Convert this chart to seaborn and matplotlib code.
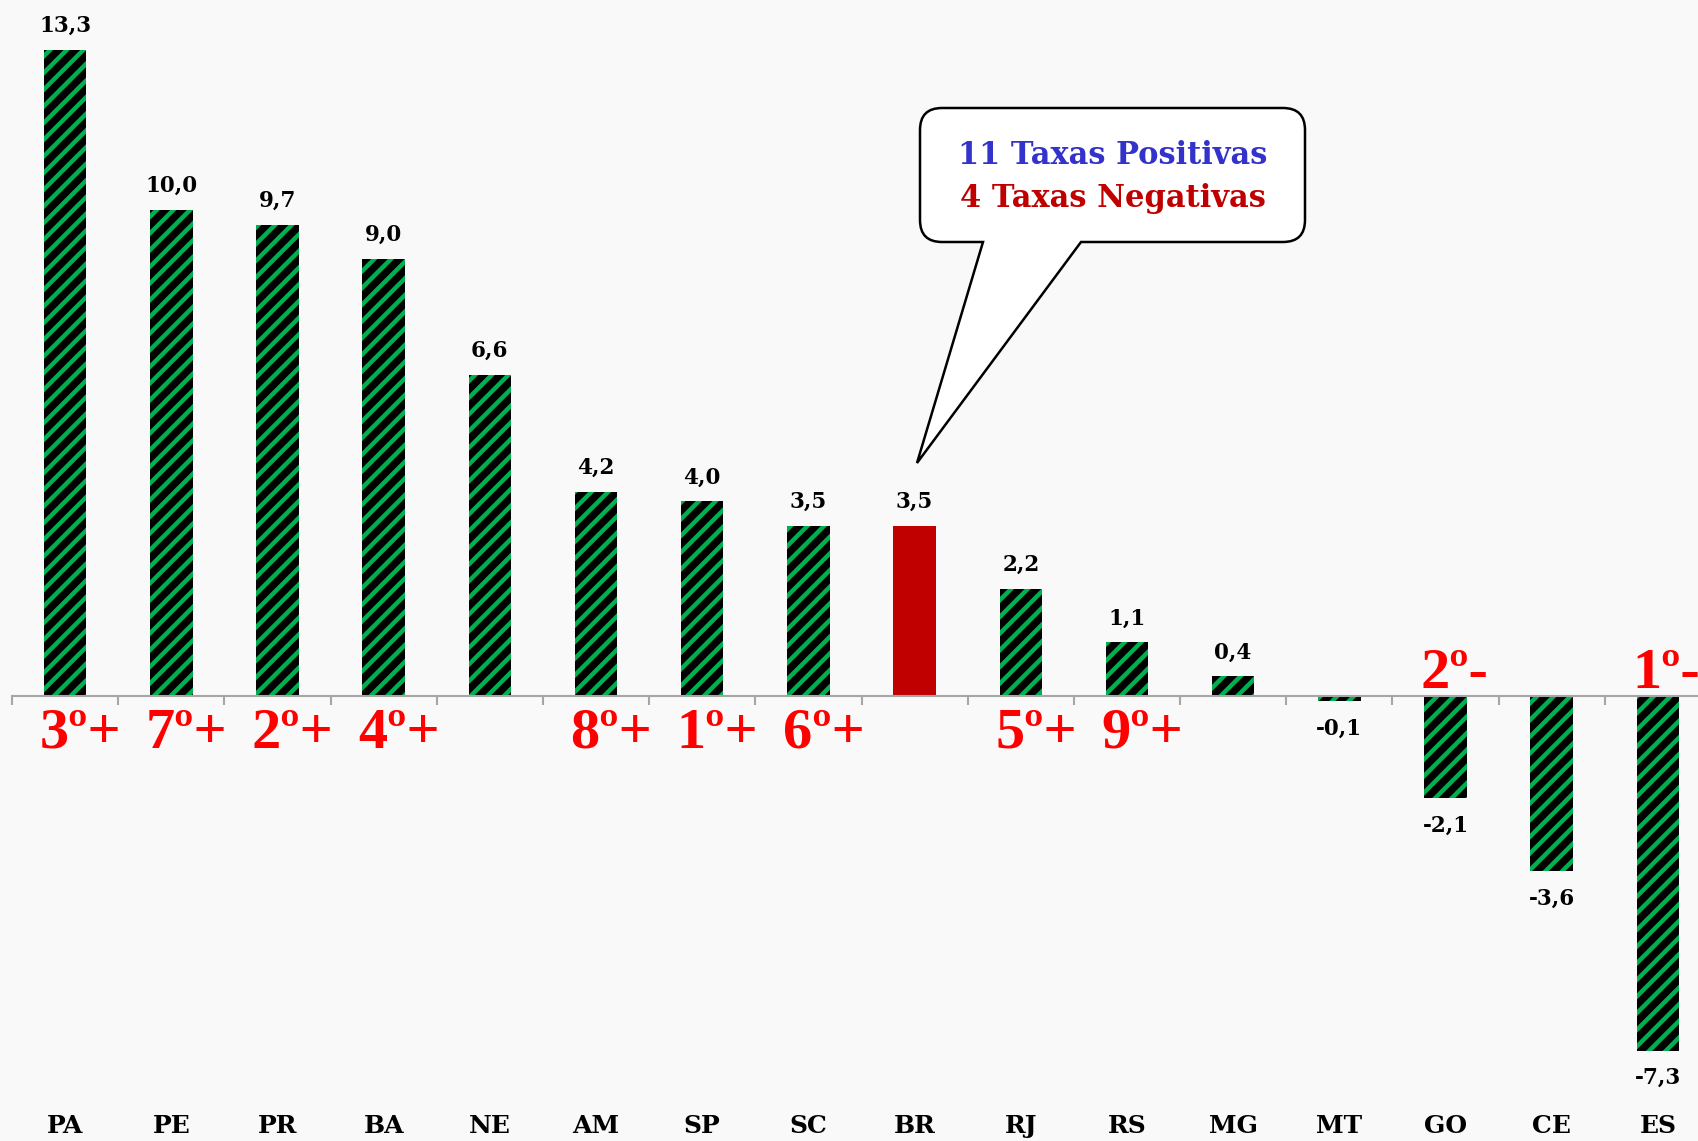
import matplotlib
matplotlib.use("Agg")
import matplotlib.pyplot as plt
import matplotlib.transforms as mtransforms
from matplotlib.path import Path
from matplotlib.patches import PathPatch
import seaborn as sns

states = ["PA", "PE", "PR", "BA", "NE", "AM", "SP", "SC", "BR", "RJ", "RS", "MG", "MT", "GO", "CE", "ES"]
values = [13.3, 10.0, 9.7, 9.0, 6.6, 4.2, 4.0, 3.5, 3.5, 2.2, 1.1, 0.4, -0.1, -2.1, -3.6, -7.3]
ranks = ["3º+", "7º+", "2º+", "4º+", "", "8º+", "1º+", "6º+", "", "5º+", "9º+", "", "", "2º-", "", "1º-"]
callout_lines = ["11 Taxas Positivas", "4 Taxas Negativas"]

W, H = 1698, 1141
bg = "#f9f9f9"
green = "#00b050"
red_bar = "#c00000"

sns.set_style("white")
plt.rcParams["hatch.linewidth"] = 3.2

fig = plt.figure(figsize=(W / 100, H / 100), dpi=100, facecolor=bg)
ax = fig.add_axes([12 / W, 0, 1699 / W, 1])
ax.set_facecolor(bg)

palette = {s: (red_bar if s == "BR" else "black") for s in states}
sns.barplot(x=states, y=values, hue=states, palette=palette, legend=False,
            width=0.4, linewidth=0, saturation=1, ax=ax)

# green/black diagonal stripes on every bar except Brazil
for s, p in zip(states, ax.patches):
    if s != "BR":
        p.set_facecolor("black")
        p.set_edgecolor(green)
        p.set_hatch("//")
        p.set_linewidth(0)

ax.set_xlim(-0.5, len(states) - 0.5)
ax.set_ylim(-9.16, 14.32)

# axis line at zero with separators between categories
for side in ["left", "right", "top"]:
    ax.spines[side].set_visible(False)
ax.spines["bottom"].set_position(("data", 0))
ax.spines["bottom"].set_color("#a6a6a6")
ax.spines["bottom"].set_linewidth(1.5)
ax.set_yticks([])
ax.set_xticks(range(len(states)))
ax.set_xticklabels([])
ax.tick_params(axis="x", which="major", length=0)
ax.set_xticks([i - 0.5 for i in range(len(states) + 1)], minor=True)
ax.tick_params(axis="x", which="minor", bottom=True, length=6.5, width=1.5,
               color="#a6a6a6", direction="out")
ax.set_xlabel("")
ax.set_ylabel("")

serif_bold = dict(family="DejaVu Serif", weight="bold")
blend = mtransforms.blended_transform_factory(ax.transData, ax.transAxes)

for i, (s, v, r) in enumerate(zip(states, values, ranks)):
    label = f"{v:.1f}".replace(".", ",")
    if v >= 0:
        ax.annotate(label, (i, v), xytext=(0, 13), textcoords="offset points",
                    ha="center", va="baseline", fontsize=15.5, color="black", **serif_bold)
    else:
        ax.annotate(label, (i, v), xytext=(0, -12), textcoords="offset points",
                    ha="center", va="top", fontsize=15.5, color="black", **serif_bold)
    ax.text(i, 0.013, s, transform=blend, ha="center", va="center", fontsize=18,
            color="black", **serif_bold)
    if r:
        ypos = -1.07 if v >= 0 else 0.16
        ax.text(i - 0.24, ypos, r, ha="left", va="baseline", fontsize=42,
                family="Liberation Serif", weight="bold", color="#ff0000")

# speech bubble
def fx(px):
    return px / W

def fy(py):
    return 1 - py / H

x0, x1, yt, yb, rr = 920, 1305, 108, 242, 22
tb1, tb2, tip = 983, 1081, (917, 463)
pts = [
    ((x0 + rr, yt), Path.MOVETO),
    ((x1 - rr, yt), Path.LINETO),
    ((x1, yt), Path.CURVE3), ((x1, yt + rr), Path.CURVE3),
    ((x1, yb - rr), Path.LINETO),
    ((x1, yb), Path.CURVE3), ((x1 - rr, yb), Path.CURVE3),
    ((tb2, yb), Path.LINETO),
    (tip, Path.LINETO),
    ((tb1, yb), Path.LINETO),
    ((x0 + rr, yb), Path.LINETO),
    ((x0, yb), Path.CURVE3), ((x0, yb - rr), Path.CURVE3),
    ((x0, yt + rr), Path.LINETO),
    ((x0, yt), Path.CURVE3), ((x0 + rr, yt), Path.CURVE3),
    ((x0 + rr, yt), Path.CLOSEPOLY),
]
verts = [(fx(p[0]), fy(p[1])) for p, _ in pts]
codes = [c for _, c in pts]
bubble = PathPatch(Path(verts, codes), facecolor="white", edgecolor="black",
                   linewidth=1.8, transform=fig.transFigure, zorder=5)
fig.patches.append(bubble)

fig.text(fx(1113), fy(155), callout_lines[0], ha="center", va="center",
         fontsize=22, color="#3333cc", zorder=6, **serif_bold)
fig.text(fx(1113), fy(199), callout_lines[1], ha="center", va="center",
         fontsize=22, color="#c00000", zorder=6, **serif_bold)

fig.savefig("out.png", dpi=100, facecolor=bg)
